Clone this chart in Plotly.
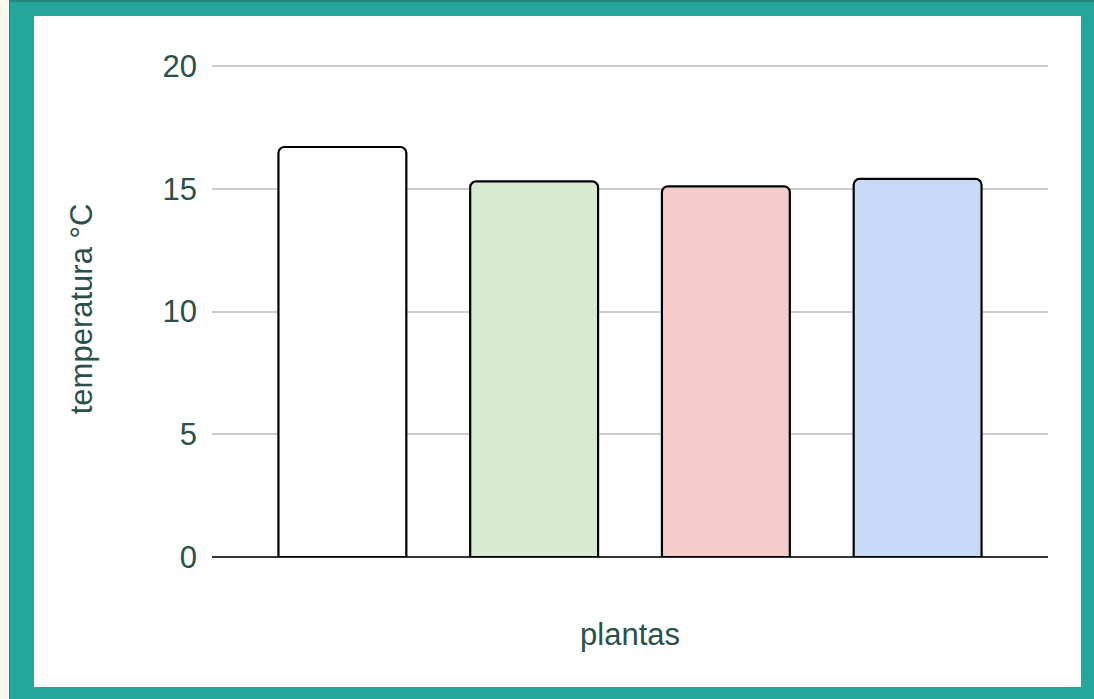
import plotly.graph_objects as go

categories = ["planta 1", "planta 2", "planta 3", "planta 4"]
temperatures = [16.7, 15.3, 15.1, 15.4]
bar_colors = ["#ffffff", "#d9ead3", "#f4cccc", "#c9daf8"]
y_ticks = [0, 5, 10, 15, 20]

W, H = 1094, 699
L, R, T, B = 212, 1048, 61, 557
unit_px = (557 - 66) / 20.0
y_top = 20 + (66 - T) / unit_px
pw, ph = R - L, B - T

def px_x(v):
    return (v - L) / pw

def px_y(v):
    return (B - v) / ph

text_color = "#2b4f4a"
font_family = "Liberation Sans, Arial, sans-serif"
fs = 31

fig = go.Figure()
fig.add_trace(go.Bar(
    x=categories,
    y=temperatures,
    marker=dict(color=bar_colors, line=dict(color="#000000", width=2.2), cornerradius=6),
    width=0.667,
    showlegend=False,
    hoverinfo="x+y",
))

shapes = [
    dict(type="rect", xref="paper", yref="paper", x0=px_x(-5), x1=px_x(9),
         y0=px_y(H + 5), y1=px_y(-5), fillcolor="#fdf8ec", line=dict(width=0), layer="below"),
    dict(type="rect", xref="paper", yref="paper", x0=px_x(9), x1=px_x(W + 5),
         y0=px_y(H + 5), y1=px_y(0), fillcolor="#1f8a7c", line=dict(width=0), layer="below"),
    dict(type="rect", xref="paper", yref="paper", x0=px_x(10), x1=px_x(W + 5),
         y0=px_y(H + 5), y1=px_y(2), fillcolor="#26a69a", line=dict(width=0), layer="below"),
    dict(type="rect", xref="paper", yref="paper", x0=px_x(34), x1=px_x(1081),
         y0=px_y(687), y1=px_y(16), fillcolor="#ffffff", line=dict(width=0), layer="below"),
]

fig.update_layout(
    width=W, height=H,
    margin=dict(l=L, r=W - R, t=T, b=H - B, pad=0),
    paper_bgcolor="#26a69a",
    plot_bgcolor="rgba(0,0,0,0)",
    font=dict(family=font_family, color=text_color, size=fs),
    shapes=shapes,
    xaxis=dict(
        type="category",
        range=[-0.68, 3.68],
        showticklabels=False,
        showgrid=False,
        zeroline=False,
        showline=False,
        ticks="",
        title=dict(text="plantas", font=dict(size=fs, color=text_color), standoff=66),
        fixedrange=True,
    ),
    yaxis=dict(
        range=[0, y_top],
        tickvals=y_ticks,
        ticktext=[str(v) for v in y_ticks],
        showgrid=True,
        gridcolor="#cccccc",
        gridwidth=2,
        zeroline=True,
        zerolinecolor="#333333",
        zerolinewidth=2,
        showline=False,
        ticks="",
        ticklabelstandoff=14,
        tickfont=dict(size=fs, color=text_color),
        title=dict(text="temperatura °C", font=dict(size=fs, color=text_color), standoff=60),
        fixedrange=True,
    ),
)

fig.write_html("out.html", config={"displayModeBar": False})
